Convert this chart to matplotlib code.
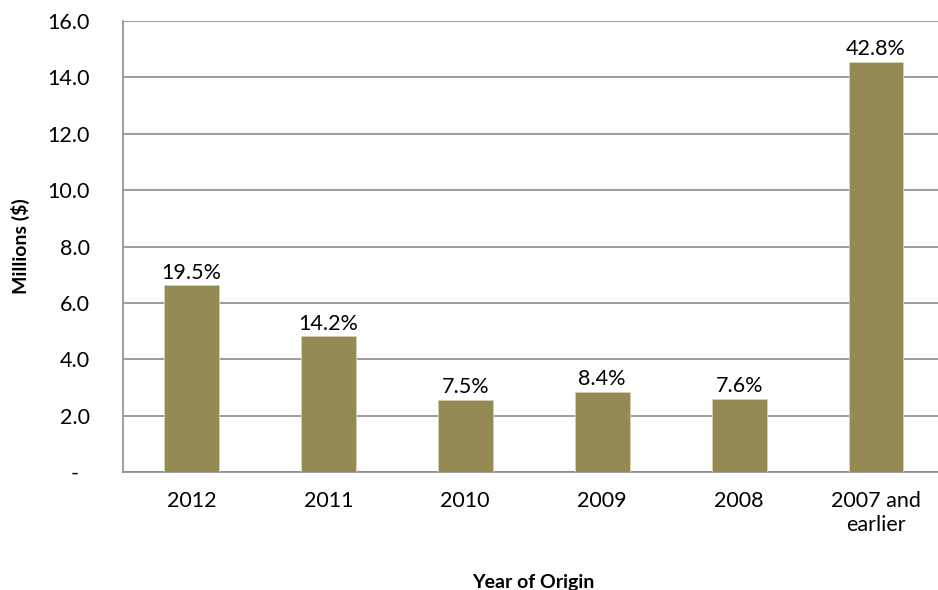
import numpy as np
from matplotlib import pyplot as plt

categories = ['2012', '2011', '2010', '2009', '2008', '2007 and\nearlier']
values = [6.62, 4.81, 2.56, 2.83, 2.58, 14.54]
shares = ['19.5%', '14.2%', '7.5%', '8.4%', '7.6%', '42.8%']
y_ticks = [0, 2, 4, 6, 8, 10, 12, 14, 16]
y_tick_labels = ['-  ', '2.0', '4.0', '6.0', '8.0', '10.0', '12.0', '14.0', '16.0']

plt.rcParams['font.family'] = ['Lato', 'DejaVu Sans']

fig = plt.figure(figsize=(9.38, 5.9), dpi=100)
ax = fig.add_axes([0.131, 0.2, 0.876, 0.7644])

x = np.arange(len(categories))
bars = ax.bar(x, values, width=0.4, color='#948A54', edgecolor='#D8D2B0', linewidth=0.6, zorder=3)

# percentage labels on top of the bars
for bar, txt in zip(bars, shares):
    ax.annotate(txt, (bar.get_x() + bar.get_width() / 2, bar.get_height()),
                xytext=(0, 2), textcoords='offset points',
                ha='center', va='bottom', fontsize=15.5, color='black')

ax.set_xlim(-0.5, len(categories) - 0.5)
ax.set_ylim(0, 16)
ax.set_yticks(y_ticks)
ax.set_yticklabels(y_tick_labels)
ax.set_xticks(x)
ax.set_xticklabels(categories, linespacing=1.25)
ax.tick_params(axis='both', length=0, labelsize=15.5, colors='black')
ax.tick_params(axis='y', pad=24)
ax.tick_params(axis='x', pad=14)
ax.yaxis.grid(True, color='#8c8c8c', linewidth=1.2, zorder=0)
ax.set_axisbelow(True)

for side in ['top', 'right']:
    ax.spines[side].set_visible(False)
for side in ['left', 'bottom']:
    ax.spines[side].set_color('#8c8c8c')
    ax.spines[side].set_linewidth(1.2)

ax.set_ylabel('Millions ($)', fontsize=14, fontweight='bold', labelpad=12)
ax.set_xlabel('Year of Origin', fontsize=14, fontweight='bold', labelpad=28)

plt.savefig('out.png', dpi=100)
